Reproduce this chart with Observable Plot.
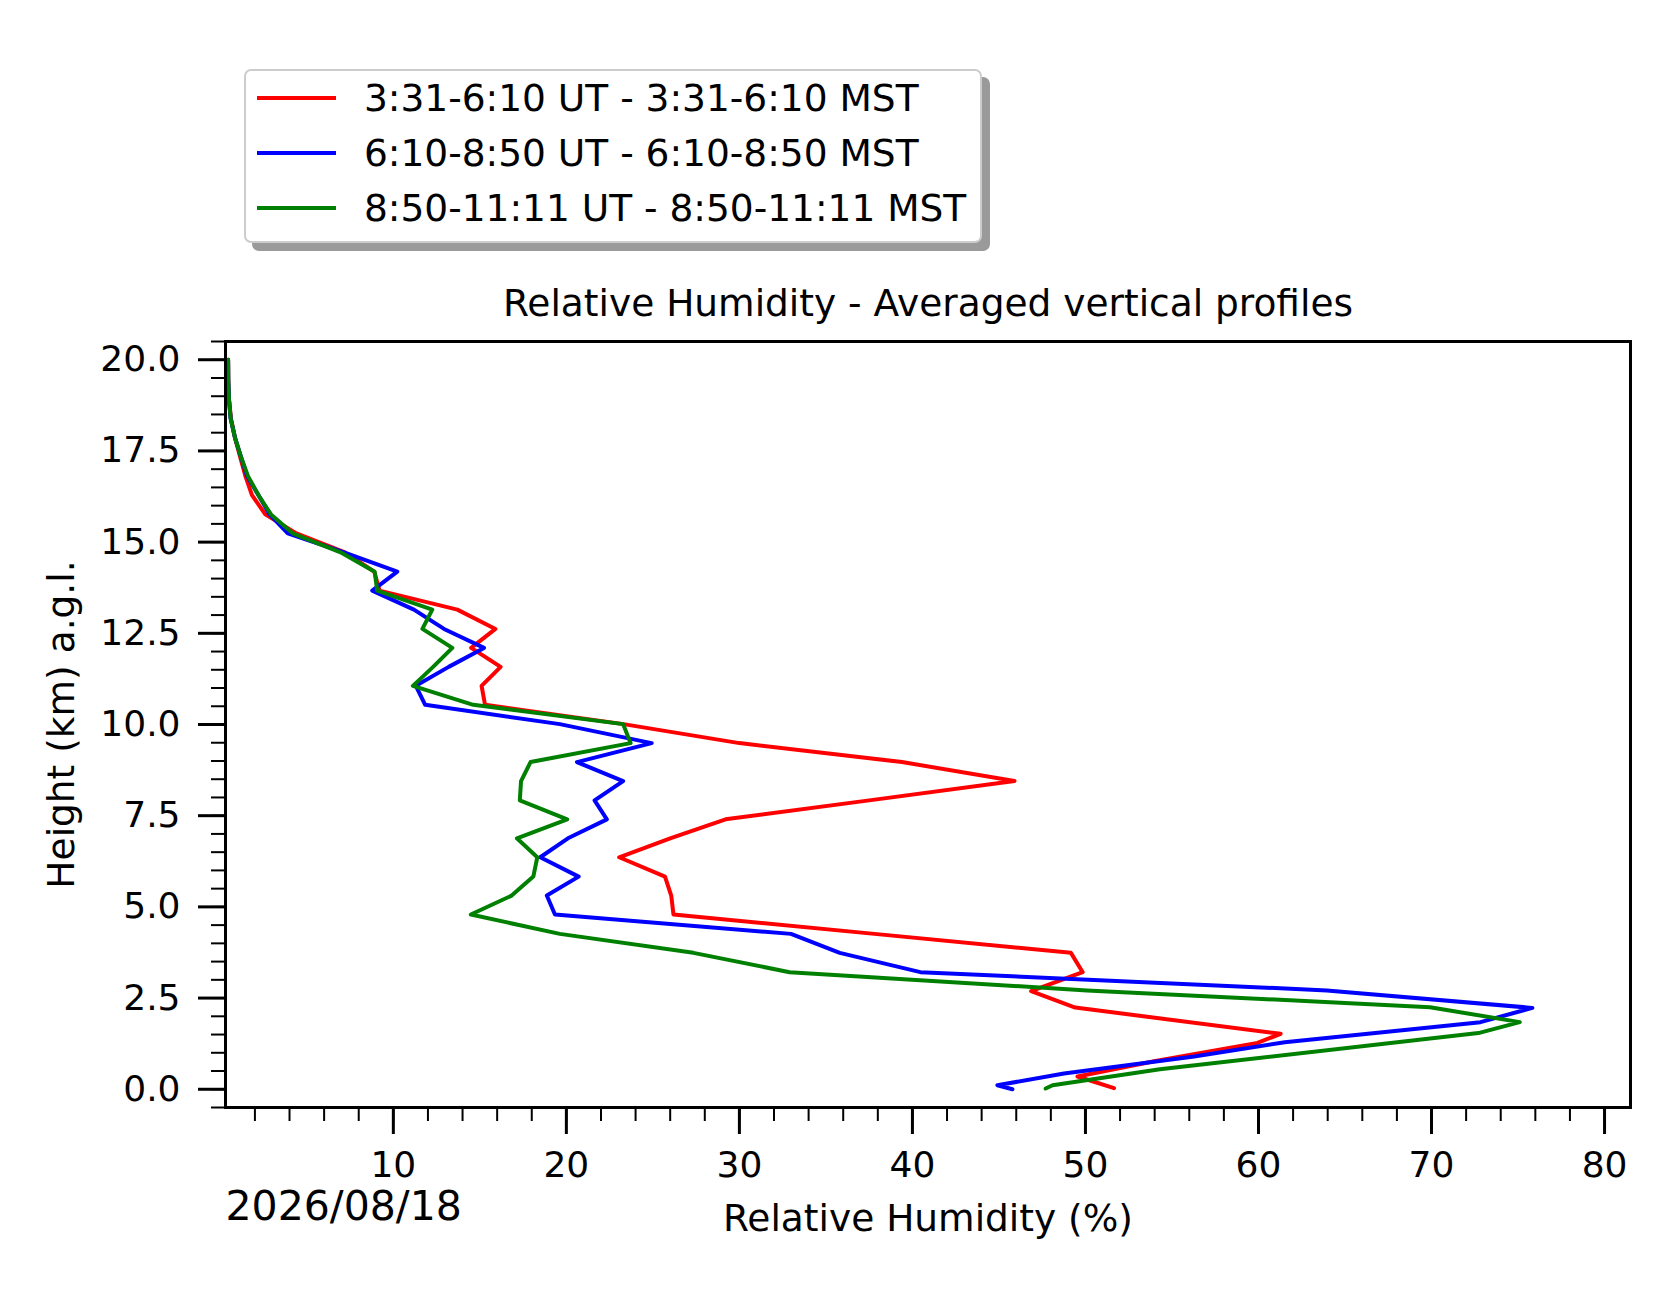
<!DOCTYPE html>
<html>
<head>
<meta charset="utf-8">
<script src="https://cdn.jsdelivr.net/npm/d3@7"></script>
<script src="https://cdn.jsdelivr.net/npm/@observablehq/plot@0.6"></script>
<style>
  html, body { margin: 0; padding: 0; background: white; }
  #wrap { position: relative; width: 1676px; height: 1303px; background: white; font-family: "DejaVu Sans", sans-serif; }
  #legend { position: absolute; left: 244px; top: 69px; width: 738px; height: 174px; box-sizing: border-box;
            border: 2px solid #cccccc; border-radius: 7px; background: white; box-shadow: 8px 8px 0 #9a9a9a; }
  .sw { position: absolute; left: 11px; width: 79px; height: 4px; }
  .lt { position: absolute; left: 118px; height: 50px; line-height: 50px; font-size: 37.5px; color: black; white-space: nowrap; }
</style>
</head>
<body>
<div id="wrap">
  <div id="chart"></div>
  <div id="legend"></div>
</div>
<script>
// ---------- data ----------
const seriesLabels = [
  "3:31-6:10 UT - 3:31-6:10 MST",
  "6:10-8:50 UT - 6:10-8:50 MST",
  "8:50-11:11 UT - 8:50-11:11 MST"
];
const seriesColors = ["#ff0000", "#0000ff", "#008000"];

const redHeight = [20.0,19.43,18.91,18.38,17.86,17.33,16.81,16.29,15.76,15.24,14.72,14.19,13.67,13.15,12.62,12.10,11.58,11.06,10.54,10.01,9.49,8.97,8.45,7.92,7.40,6.88,6.36,5.83,5.31,4.79,4.26,3.74,3.21,2.69,2.24,1.52,1.27,0.77,0.35,0.03];
const redRH     = [0.45,0.46,0.5,0.62,0.85,1.15,1.45,1.83,2.6,4.4,7.2,8.9,9.2,13.7,15.9,14.5,16.2,15.1,15.3,23.3,30.0,39.4,45.9,37.5,29.2,26.0,23.05,25.7,26.06,26.19,37.8,49.16,49.84,46.86,49.41,61.28,59.94,53.97,49.54,51.65];

const blueHeight = [20.0,19.43,18.91,18.38,17.86,17.33,16.81,16.29,15.76,15.24,14.72,14.19,13.67,13.15,12.62,12.10,11.58,11.06,10.54,10.01,9.49,8.97,8.45,7.92,7.40,6.88,6.36,5.83,5.31,4.79,4.26,3.74,3.21,2.71,2.23,1.84,1.29,0.90,0.43,0.11,0.0];
const blueRH     = [0.45,0.46,0.5,0.6,0.85,1.2,1.55,2.2,2.85,3.9,7.15,10.23,8.78,11.19,12.93,15.24,13.2,11.3,11.84,19.62,24.93,20.61,23.28,21.63,22.34,20.09,18.49,20.71,18.87,19.34,32.98,35.8,40.46,63.95,75.83,72.83,61.52,56.28,48.76,44.91,45.78];

const greenHeight = [20.0,19.43,18.91,18.38,17.86,17.33,16.81,16.29,15.76,15.24,14.72,14.19,13.67,13.15,12.62,12.10,11.58,11.06,10.54,10.01,9.49,8.97,8.45,7.92,7.40,6.88,6.36,5.83,5.31,4.79,4.26,3.74,3.21,2.71,2.25,1.84,1.54,0.55,0.11,0.02];
const greenRH     = [0.45,0.46,0.5,0.6,0.85,1.2,1.6,2.2,2.93,4.18,6.95,8.92,9.07,12.25,11.68,13.41,12.3,11.13,14.62,23.28,23.71,17.93,17.38,17.31,20.05,17.14,18.32,18.09,16.84,14.48,19.62,27.34,32.9,50.09,69.91,75.1,72.71,54.3,48.1,47.7];

const yMajorTicks = [0, 2.5, 5, 7.5, 10, 12.5, 15, 17.5, 20];
const xMajorTicks = [10, 20, 30, 40, 50, 60, 70, 80];
const yMinorTicks = d3.range(-0.5, 20.51, 0.5);
const xMinorTicks = d3.range(2, 80.1, 2);

const titleText = "Relative Humidity - Averaged vertical profiles";
const xLabel = "Relative Humidity (%)";
const yLabel = "Height (km) a.g.l.";
const dateText = "2026/08/18";

// ---------- build ----------
const toRows = (hs, vs) => hs.map((h, i) => ({h, rh: vs[i]}));
const series = [
  toRows(redHeight, redRH),
  toRows(blueHeight, blueRH),
  toRows(greenHeight, greenRH)
];

const font = "DejaVu Sans";
const chart = Plot.plot({
  width: 1676,
  height: 1303,
  marginLeft: 225,
  marginRight: 46,
  marginTop: 341,
  marginBottom: 196,
  x: {domain: [0.3, 81.5]},
  y: {domain: [-0.5, 20.5]},
  style: {fontFamily: font, background: "white", color: "black", overflow: "visible"},
  marks: [
    Plot.axisY(yMinorTicks, {tickSize: 14, strokeWidth: 2, tickFormat: () => "", label: null}),
    Plot.axisY(yMajorTicks, {tickSize: 27, strokeWidth: 3, tickPadding: 18, fontSize: 36,
      tickFormat: d => d.toFixed(1), label: null}),
    Plot.axisX(xMinorTicks, {tickSize: 14, strokeWidth: 2, tickFormat: () => "", label: null}),
    Plot.axisX(xMajorTicks, {tickSize: 27, strokeWidth: 3, tickPadding: 17, fontSize: 36,
      tickFormat: d => String(d), label: null}),
    ...series.map((rows, i) => Plot.line(rows, {x: "rh", y: "h", stroke: seriesColors[i],
      strokeWidth: 4, strokeLinejoin: "round"})),
    Plot.frame({stroke: "black", strokeWidth: 3}),
    Plot.text([titleText], {text: d => d, frameAnchor: "top", dy: -26, lineAnchor: "bottom",
      fontSize: 37.5, fill: "black"}),
    Plot.text([xLabel], {text: d => d, frameAnchor: "bottom", dy: 123, lineAnchor: "bottom",
      fontSize: 37.5, fill: "black"}),
    Plot.text([yLabel], {text: d => d, frameAnchor: "left", textAnchor: "middle", dx: -164, rotate: -90,
      fontSize: 37.5, fill: "black"}),
    Plot.text([dateText], {text: d => d, frameAnchor: "bottom-left", textAnchor: "start",
      dy: 112, lineAnchor: "bottom", fontSize: 41, fill: "black"})
  ]
});
document.getElementById("chart").appendChild(chart);

// legend
const legend = document.getElementById("legend");
const rowCenters = [27, 82, 137];
seriesLabels.forEach((lab, i) => {
  const sw = document.createElement("div");
  sw.className = "sw";
  sw.style.top = (rowCenters[i] - 2) + "px";
  sw.style.background = seriesColors[i];
  legend.appendChild(sw);
  const t = document.createElement("div");
  t.className = "lt";
  t.style.top = (rowCenters[i] - 25) + "px";
  t.textContent = lab;
  legend.appendChild(t);
});
</script>
</body>
</html>
